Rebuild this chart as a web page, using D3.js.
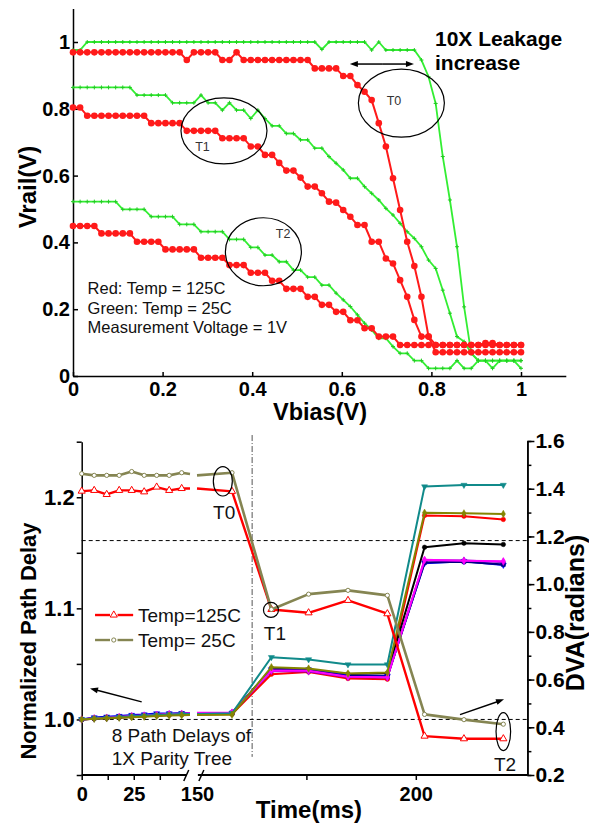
<!DOCTYPE html>
<html>
<head>
<meta charset="utf-8">
<script src="https://cdn.jsdelivr.net/npm/d3@7"></script>
<style>
body { margin: 0; background: #fff; }
svg { display: block; font-family: Arial, "Liberation Sans", sans-serif; }
</style>
</head>
<body>
<div id="chart"></div>
<script>
// ---------- top panel data : Vrail(V) against Vbias(V) ----------
const vbias = d3.range(64).map(i => i / 63); // sweep grid, 64 samples
const xTopTicks = [0, 0.2, 0.4, 0.6, 0.8, 1];
const yTopTicks = [0, 0.2, 0.4, 0.6, 0.8, 1];

const red125High = [0.969,0.969,0.969,0.969,0.969,0.969,0.969,0.969,0.969,0.969,0.969,0.969,0.969,0.969,0.969,0.969,
    0.946,0.969,0.969,0.969,0.969,0.946,0.946,0.969,
    0.946,0.946,0.946,0.946,0.946,0.946,0.946,0.946,0.946,0.946,
    0.921,0.921,0.921,0.921,0.898,0.898,
    0.871,0.851,0.826,0.757,0.687,0.592,0.497,0.402,0.329,0.237,0.118,
    0.071,0.071,0.071,0.071,0.071,0.071,0.071,0.071,0.071,0.071,0.071,0.071,0.071];
const red125Mid = [0.804,0.804,
    0.779,0.779,0.779,0.779,0.779,0.779,0.779,0.779,0.779,
    0.757,0.757,0.757,0.757,0.757,
    0.734,0.734,0.734,0.734,0.734,
    0.712,0.712,0.712,0.712,
    0.687,0.687,0.662,0.662,0.638,0.615,0.615,0.594,0.567,0.567,
    0.547,0.522,0.519,0.497,0.477,0.452,0.452,0.402,0.402,0.352,0.337,0.287,0.237,0.168,0.118,0.118,
    0.093,0.093,0.093,0.093,0.093,0.093,0.093,0.099,0.099,0.093,0.093,0.093,0.093];
const red125Low = [0.449,0.449,0.449,0.449,
    0.427,0.427,0.427,0.427,0.427,
    0.402,0.402,0.402,0.402,
    0.379,0.379,0.379,0.379,0.379,
    0.354,0.354,0.354,0.354,
    0.332,0.332,0.332,
    0.309,0.309,0.309,
    0.285,0.285,
    0.261,0.261,0.261,
    0.237,0.237,0.213,0.213,0.192,0.192,0.167,0.167,0.143,0.143,
    0.118,0.118,0.118,
    0.093,0.093,0.093,0.093,0.093,0.093,0.093,0.093,0.093,0.093,0.093,0.093,0.093,0.093,0.093,0.093,0.093,0.093];
const green25High = [0.976,0.976,
    1.0,1.0,1.0,1.0,1.0,1.0,1.0,1.0,1.0,1.0,1.0,1.0,1.0,1.0,1.0,1.0,1.0,1.0,1.0,1.0,1.0,1.0,1.0,1.0,1.0,1.0,1.0,1.0,1.0,1.0,1.0,1.0,1.0,
    0.978,1.0,1.0,1.0,1.0,1.0,1.0,0.976,1.0,
    0.976,0.976,0.976,0.976,0.976,
    0.946,0.896,0.816,0.657,0.527,0.387,0.207,0.068,
    0.046,0.046,0.046,0.046,0.046,0.046,0.046];
const green25Mid = [0.864,0.864,0.864,0.864,0.864,0.864,0.864,0.864,0.864,
    0.841,0.841,0.841,0.841,0.841,
    0.818,0.818,0.818,0.818,0.841,0.818,0.818,0.796,0.818,0.796,0.796,0.771,0.796,0.771,
    0.749,0.749,0.726,0.726,0.707,0.707,0.682,0.682,0.657,0.637,0.617,0.592,0.592,
    0.567,0.547,0.527,0.502,0.482,0.457,0.432,0.412,0.387,0.347,0.322,0.257,0.188,0.118,0.103,0.068,
    0.046,0.046,0.023,0.046,0.046,0.046,0.046];
const green25Low = [0.522,0.522,0.522,0.522,0.522,0.522,0.522,
    0.499,0.499,0.499,0.499,
    0.477,0.477,0.477,0.477,
    0.454,0.454,0.454,
    0.432,0.432,0.432,0.432,
    0.409,0.409,0.409,
    0.385,0.385,0.362,0.362,0.342,0.342,0.317,0.317,0.296,0.296,0.272,0.272,
    0.248,0.228,0.208,0.183,0.158,0.138,0.113,0.113,0.088,0.068,0.068,0.046,0.046,
    0.023,0.023,0.023,0.023,0.046,0.023,0.023,
    0.046,0.046,0.046,0.046,0.046,0.046,0.023];

// ---------- bottom panel data : delay and DVA against time ----------
const timeMs = [0, 6, 12, 18, 24, 30, 36, 42, 48, 52, 150, 158, 167, 175.5, 184.5, 193.5, 202, 211, 220];
const breakIndex = 9; // last sample before the broken time axis
const xBottomTicks = [0, 12.5, 25, 37.5, 150, 175, 200];
const xBottomLabels = [0, 25, 150, 200];
const leftTicks = [0.95, 1.0, 1.05, 1.1, 1.15, 1.2, 1.25];
const leftLabels = [1.0, 1.1, 1.2];
const rightTicks = [0.2, 0.3, 0.4, 0.5, 0.6, 0.7, 0.8, 0.9, 1.0, 1.1, 1.2, 1.3, 1.4, 1.5, 1.6];
const rightLabels = [0.2, 0.4, 0.6, 0.8, 1.0, 1.2, 1.4, 1.6];

const dvaTemp125 = [1.390,1.393,1.376,1.393,1.393,1.387,1.407,1.393,1.401,1.401,
    1.401,1.389,0.894,0.880,0.932,0.876,0.363,0.352,0.352];
const dvaTemp25 = [1.463,1.456,1.456,1.456,1.472,1.456,1.456,1.456,1.467,1.462,
    1.456,1.467,0.894,0.958,0.974,0.953,0.454,0.432,0.413];

const delayRed = [1.000,1.0007,1.0012,1.0018,1.0024,1.003,1.0036,1.004,1.0044,1.0045,
    1.0045,1.0048,1.0407,1.0428,1.0368,1.0362,1.1836,1.183,1.180];
const delayBlack = [1.000,1.0007,1.0012,1.0017,1.0023,1.003,1.0035,1.004,1.0045,1.0045,
    1.005,1.005,1.046,1.045,1.041,1.0415,1.155,1.1587,1.1575];
const delayBlue = [1.000,1.0018,1.0024,1.003,1.0039,1.0044,1.0054,1.0054,1.0056,1.0056,
    1.0058,1.006,1.045,1.0449,1.0395,1.039,1.1407,1.1425,1.139];
const delayNavy = [1.000,1.0012,1.0018,1.0024,1.0032,1.0038,1.0045,1.005,1.0053,1.0054,
    1.0056,1.0058,1.0445,1.0442,1.039,1.0386,1.1412,1.142,1.1395];
const delayPurple = [1.000,1.0009,1.0015,1.002,1.0028,1.0034,1.004,1.0046,1.005,1.0052,
    1.0058,1.006,1.0435,1.0432,1.0382,1.0378,1.1432,1.143,1.1418];
const delayMagenta = [1.000,1.001,1.0016,1.0022,1.003,1.0036,1.0042,1.0048,1.0052,1.0055,
    1.006,1.0062,1.044,1.0438,1.0385,1.038,1.1437,1.1428,1.1425];
const delayTeal = [1.000,1.0008,1.0014,1.002,1.0028,1.0034,1.004,1.0045,1.005,1.005,
    1.005,1.0055,1.056,1.054,1.0494,1.0494,1.2096,1.211,1.211];
const delayOlive = [1.000,1.0006,1.001,1.0015,1.002,1.0025,1.003,1.0035,1.0038,1.004,
    1.004,1.0042,1.047,1.0458,1.0413,1.0422,1.186,1.1855,1.185];

const tempLabels = ['Temp=125C', 'Temp= 25C'];

// ---------- drawing ----------
const svg = d3.select('#chart').append('svg')
    .attr('width', 589)
    .attr('height', 829);

function translate(x, y) {
    return 'translate(' + x + ',' + y + ')';
}

function styleAxis(g, size) {
    g.attr('font-family', null).attr('font-size', null);
    g.selectAll('path, line').attr('stroke', '#000').attr('stroke-width', 1.5);
    g.selectAll('text').attr('font-size', size).attr('font-weight', 'bold').attr('fill', '#000');
}

function arrow(g, x1, y1, x2, y2) {
    const a = Math.atan2(y2 - y1, x2 - x1);
    const len = 8, half = 3;
    g.append('line').attr('x1', x1).attr('y1', y1)
        .attr('x2', x2 - Math.cos(a) * len * 0.8).attr('y2', y2 - Math.sin(a) * len * 0.8)
        .attr('stroke', '#000').attr('stroke-width', 1.5);
    const bx = x2 - Math.cos(a) * len, by = y2 - Math.sin(a) * len;
    g.append('path')
        .attr('d', 'M' + x2 + ',' + y2 +
            'L' + (bx - Math.sin(a) * half) + ',' + (by + Math.cos(a) * half) +
            'L' + (bx + Math.sin(a) * half) + ',' + (by - Math.cos(a) * half) + 'Z')
        .attr('fill', '#000');
}

// ===== top panel =====
const xTop = d3.scaleLinear().domain([0, 1.1]).range([73, 565.8]);
const yTop = d3.scaleLinear().domain([0, 1.1]).range([376, 8.6]);
const topChart = svg.append('g').attr('class', 'vrail');

topChart.append('g')
    .attr('transform', translate(0, yTop(0)))
    .call(d3.axisBottom(xTop).tickValues(xTopTicks).tickFormat(d3.format('~g'))
        .tickSize(-4).tickSizeOuter(0).tickPadding(6))
    .call(g => styleAxis(g, 20));

topChart.append('g')
    .attr('transform', translate(xTop(0), 0))
    .call(d3.axisLeft(yTop).tickValues(yTopTicks).tickFormat(d3.format('~g'))
        .tickSize(-5).tickSizeOuter(0).tickPadding(3))
    .call(g => styleAxis(g, 20));

const topLine = d3.line()
    .x((d, i) => xTop(vbias[i]))
    .y(d => yTop(d));

const greenCurves = [green25High, green25Mid, green25Low];
const redCurves = [red125High, red125Mid, red125Low];

greenCurves.forEach(values => {
    topChart.append('path')
        .datum(values)
        .attr('d', topLine)
        .attr('fill', 'none')
        .attr('stroke', '#33ee33')
        .attr('stroke-width', 1.8);
    topChart.append('g').selectAll('path')
        .data(values)
        .enter().append('path')
        .attr('transform', (d, i) => translate(xTop(vbias[i]), yTop(d)))
        .attr('d', 'M-2,0H2M0,-2V2')
        .attr('stroke', '#22cc22')
        .attr('stroke-width', 1);
});

redCurves.forEach(values => {
    topChart.append('path')
        .datum(values)
        .attr('d', topLine)
        .attr('fill', 'none')
        .attr('stroke', '#ff1a1a')
        .attr('stroke-width', 2);
    topChart.append('g').selectAll('circle')
        .data(values)
        .enter().append('circle')
        .attr('cx', (d, i) => xTop(vbias[i]))
        .attr('cy', d => yTop(d))
        .attr('r', 3.3)
        .attr('fill', '#ff1a1a');
});

// annotations of the top panel
const topNotes = [
    { label: 'T0', cx: 0.733, cy: 0.817, rx: 43, ry: 34, lx: 0.7165, ly: 0.811 },
    { label: 'T1', cx: 0.337, cy: 0.734, rx: 43, ry: 33, lx: 0.289, ly: 0.675 },
    { label: 'T2', cx: 0.425, cy: 0.372, rx: 38, ry: 34, lx: 0.469, ly: 0.414 }
];
topNotes.forEach(n => {
    topChart.append('ellipse')
        .attr('cx', xTop(n.cx)).attr('cy', yTop(n.cy))
        .attr('rx', n.rx).attr('ry', n.ry)
        .attr('fill', 'none').attr('stroke', '#000').attr('stroke-width', 1.2);
    topChart.append('text')
        .attr('x', xTop(n.lx)).attr('y', yTop(n.ly))
        .attr('text-anchor', 'middle').attr('font-size', 12.5).attr('fill', '#333')
        .text(n.label);
});

const dbl = topChart.append('g');
arrow(dbl, xTop(0.69), yTop(0.934), xTop(0.761), yTop(0.934));
arrow(dbl, xTop(0.69), yTop(0.934), xTop(0.618), yTop(0.934));

topChart.append('text')
    .attr('x', xTop(0.808)).attr('y', yTop(0.987))
    .attr('font-size', 21).attr('font-weight', 'bold')
    .text('10X Leakage');
topChart.append('text')
    .attr('x', xTop(0.808)).attr('y', yTop(0.916))
    .attr('font-size', 21).attr('font-weight', 'bold')
    .text('increase');

const topLegend = ['Red: Temp = 125C', 'Green: Temp = 25C', 'Measurement Voltage = 1V'];
topChart.append('g').selectAll('text')
    .data(topLegend)
    .enter().append('text')
    .attr('x', xTop(0.0326))
    .attr('y', (d, i) => yTop(0.2455) + i * 19.5)
    .attr('font-size', 16.5)
    .attr('fill', '#111')
    .text(d => d);

svg.append('text')
    .attr('x', 320).attr('y', 420)
    .attr('text-anchor', 'middle').attr('font-size', 23.5).attr('font-weight', 'bold')
    .text('Vbias(V)');
svg.append('text')
    .attr('transform', translate(27, 187) + ' rotate(-90)')
    .attr('text-anchor', 'middle').attr('dominant-baseline', 'central')
    .attr('font-size', 24).attr('font-weight', 'bold')
    .text('Vrail(V)');

// ===== bottom panel =====
const xB = d3.scaleLinear().domain([0, 52, 150, 225.5]).range([81.7, 190, 197, 527.4]);
const yL = d3.scaleLinear().domain([0.95, 1.25]).range([775, 441.7]);
const yR = d3.scaleLinear().domain([0.2, 1.6]).range([775, 441]);
const bottomChart = svg.append('g').attr('class', 'dva');

// reference lines
bottomChart.append('g').selectAll('line')
    .data([1.161, 1.0])
    .enter().append('line')
    .attr('x1', xB.range()[0]).attr('x2', xB.range()[3])
    .attr('y1', d => yL(d)).attr('y2', d => yL(d))
    .attr('stroke', '#000').attr('stroke-width', 1).attr('stroke-dasharray', '4,3');
bottomChart.append('line')
    .attr('x1', xB(162.6)).attr('x2', xB(162.6))
    .attr('y1', yR(1.625)).attr('y2', yR(0.276))
    .attr('stroke', '#555').attr('stroke-width', 1).attr('stroke-dasharray', '6,2,1,2');

// x axis with a break
const xAxisG = bottomChart.append('g')
    .attr('transform', translate(0, 775))
    .call(d3.axisBottom(xB).tickValues(xBottomTicks)
        .tickFormat(d => xBottomLabels.includes(d) ? d : '')
        .tickSize(5).tickSizeOuter(0).tickPadding(7))
    .call(g => styleAxis(g, 20));
xAxisG.select('.domain').remove();
xAxisG.selectAll('.tick').filter(d => d === 150).select('line').remove();
xAxisG.append('line').attr('x1', xB(0)).attr('x2', xB(50.5))
    .attr('stroke', '#000').attr('stroke-width', 1.8);
xAxisG.append('line').attr('x1', xB(150.2)).attr('x2', xB(225.5))
    .attr('stroke', '#000').attr('stroke-width', 1.8);
[50.2, 151.0].forEach(t => {
    xAxisG.append('line')
        .attr('x1', xB(t) - 2.5).attr('y1', 6)
        .attr('x2', xB(t) + 2.5).attr('y2', -5)
        .attr('stroke', '#000').attr('stroke-width', 1.5);
});

bottomChart.append('g')
    .attr('transform', translate(xB(0), 0))
    .call(d3.axisLeft(yL).tickValues(leftTicks)
        .tickFormat(d => leftLabels.includes(d) ? d3.format('.1f')(d) : '')
        .tickSize(5).tickSizeOuter(0).tickPadding(2))
    .call(g => styleAxis(g, 22));

const rightX = xB.range()[3];
bottomChart.append('g')
    .attr('transform', translate(rightX, 0))
    .call(d3.axisRight(yR).tickValues(rightTicks).tickFormat('')
        .tickSize(4).tickSizeOuter(0))
    .call(g => styleAxis(g, 21));
bottomChart.append('g')
    .attr('transform', translate(rightX, 0))
    .call(d3.axisRight(yR).tickValues(rightLabels).tickFormat(d3.format('.1f'))
        .tickSize(7).tickSizeOuter(0).tickPadding(1))
    .call(g => styleAxis(g, 21));

function splitAtBreak(values) {
    const pts = values.map((v, i) => [timeMs[i], v, i]);
    return [pts.slice(0, breakIndex + 1), pts.slice(breakIndex + 1)];
}

function drawSeries(values, yScale, color, width, symbolType, symbolSize, hollow) {
    const line = d3.line().x(d => xB(d[0])).y(d => yScale(d[1]));
    const parts = splitAtBreak(values);
    parts.forEach(p => {
        bottomChart.append('path')
            .datum(p)
            .attr('d', line)
            .attr('fill', 'none')
            .attr('stroke', color)
            .attr('stroke-width', width)
            .attr('stroke-linejoin', 'round');
    });
    const sym = d3.symbol().type(symbolType).size(symbolSize);
    bottomChart.append('g').selectAll('path')
        .data(parts[0].concat(parts[1]).filter(d => d[2] !== breakIndex && d[2] !== breakIndex + 1))
        .enter().append('path')
        .attr('transform', d => translate(xB(d[0]), yScale(d[1])) + (symbolType === d3.symbolTriangle && !hollow ? ' rotate(180)' : ''))
        .attr('d', sym)
        .attr('fill', hollow ? '#fff' : color)
        .attr('stroke', color)
        .attr('stroke-width', hollow ? 1 : 0.5);
}

const pathSeries = [
    { values: delayRed, color: '#ff0000', symbol: d3.symbolCircle },
    { values: delayBlack, color: '#000000', symbol: d3.symbolCircle },
    { values: delayBlue, color: '#0000ff', symbol: d3.symbolTriangle },
    { values: delayNavy, color: '#000080', symbol: d3.symbolSquare },
    { values: delayPurple, color: '#8000c0', symbol: d3.symbolDiamond },
    { values: delayMagenta, color: '#ff00ff', symbol: d3.symbolDiamond },
    { values: delayTeal, color: '#108a8a', symbol: d3.symbolTriangle },
    { values: delayOlive, color: '#858500', symbol: d3.symbolDiamond }
];
pathSeries.forEach(s => drawSeries(s.values, yL, s.color, 2, s.symbol, 16, false));

drawSeries(dvaTemp125, yR, '#ff0000', 2.4, d3.symbolTriangle, 22, true);
drawSeries(dvaTemp25, yR, '#858552', 2.6, d3.symbolCircle, 14, true);

// legend of the temperature curves
const legendStyle = [
    { color: '#ff0000', symbol: d3.symbolTriangle, size: 22 },
    { color: '#858552', symbol: d3.symbolCircle, size: 14 }
];
tempLabels.forEach((label, i) => {
    const y = yL(1.094) + i * 25;
    const g = bottomChart.append('g');
    g.append('line').attr('x1', xB(6.4)).attr('x2', xB(13.6)).attr('y1', y).attr('y2', y)
        .attr('stroke', legendStyle[i].color).attr('stroke-width', 2.4);
    g.append('line').attr('x1', xB(17.2)).attr('x2', xB(24.7)).attr('y1', y).attr('y2', y)
        .attr('stroke', legendStyle[i].color).attr('stroke-width', 2.4);
    g.append('path')
        .attr('transform', translate(xB(15.4), y))
        .attr('d', d3.symbol().type(legendStyle[i].symbol).size(legendStyle[i].size))
        .attr('fill', '#fff').attr('stroke', legendStyle[i].color).attr('stroke-width', 1);
    g.append('text').attr('x', xB(27)).attr('y', y + 7)
        .attr('font-size', 19).attr('fill', '#111').text(label);
});

// T markers
const ellipseNotes = [
    { t: 155.9, v: 1.431, rx: 9.5, ry: 14.7 },
    { t: 166.9, v: 0.892, rx: 7.5, ry: 7.5 },
    { t: 220, v: 0.382, rx: 7.3, ry: 19 }
];
bottomChart.append('g').selectAll('ellipse')
    .data(ellipseNotes)
    .enter().append('ellipse')
    .attr('cx', d => xB(d.t)).attr('cy', d => yR(d.v))
    .attr('rx', d => d.rx).attr('ry', d => d.ry)
    .attr('fill', 'none').attr('stroke', '#000').attr('stroke-width', 1.2);
const labelNotes = [
    { text: 'T0', t: 156.2, v: 1.273 },
    { text: 'T1', t: 167.8, v: 0.766 },
    { text: 'T2', t: 220.4, v: 0.218 }
];
bottomChart.append('g').selectAll('text')
    .data(labelNotes)
    .enter().append('text')
    .attr('x', d => xB(d.t)).attr('y', d => yR(d.v))
    .attr('text-anchor', 'middle').attr('font-size', 19).attr('fill', '#111')
    .text(d => d.text);

const arrows = bottomChart.append('g');
arrow(arrows, xB(28.8), yL(1.0158), xB(3.98), yL(1.0279));
arrow(arrows, xB(210.1), yR(0.453), xB(220.16), yR(0.517));

bottomChart.append('g').selectAll('text')
    .data(['8 Path Delays of', '1X Parity Tree'])
    .enter().append('text')
    .attr('x', xB(14.4))
    .attr('y', (d, i) => yL(0.98) + i * 23)
    .attr('font-size', 19).attr('fill', '#111')
    .text(d => d);

svg.append('text')
    .attr('x', 309).attr('y', 818)
    .attr('text-anchor', 'middle').attr('font-size', 24).attr('font-weight', 'bold')
    .text('Time(ms)');
svg.append('text')
    .attr('transform', translate(28, 641) + ' rotate(-90)')
    .attr('text-anchor', 'middle').attr('dominant-baseline', 'central')
    .attr('font-size', 22).attr('font-weight', 'bold')
    .text('Normalized Path Delay');
svg.append('text')
    .attr('transform', translate(575, 613) + ' rotate(-90)')
    .attr('text-anchor', 'middle').attr('dominant-baseline', 'central')
    .attr('font-size', 25).attr('font-weight', 'bold')
    .text('DVA(radians)');
</script>
</body>
</html>
